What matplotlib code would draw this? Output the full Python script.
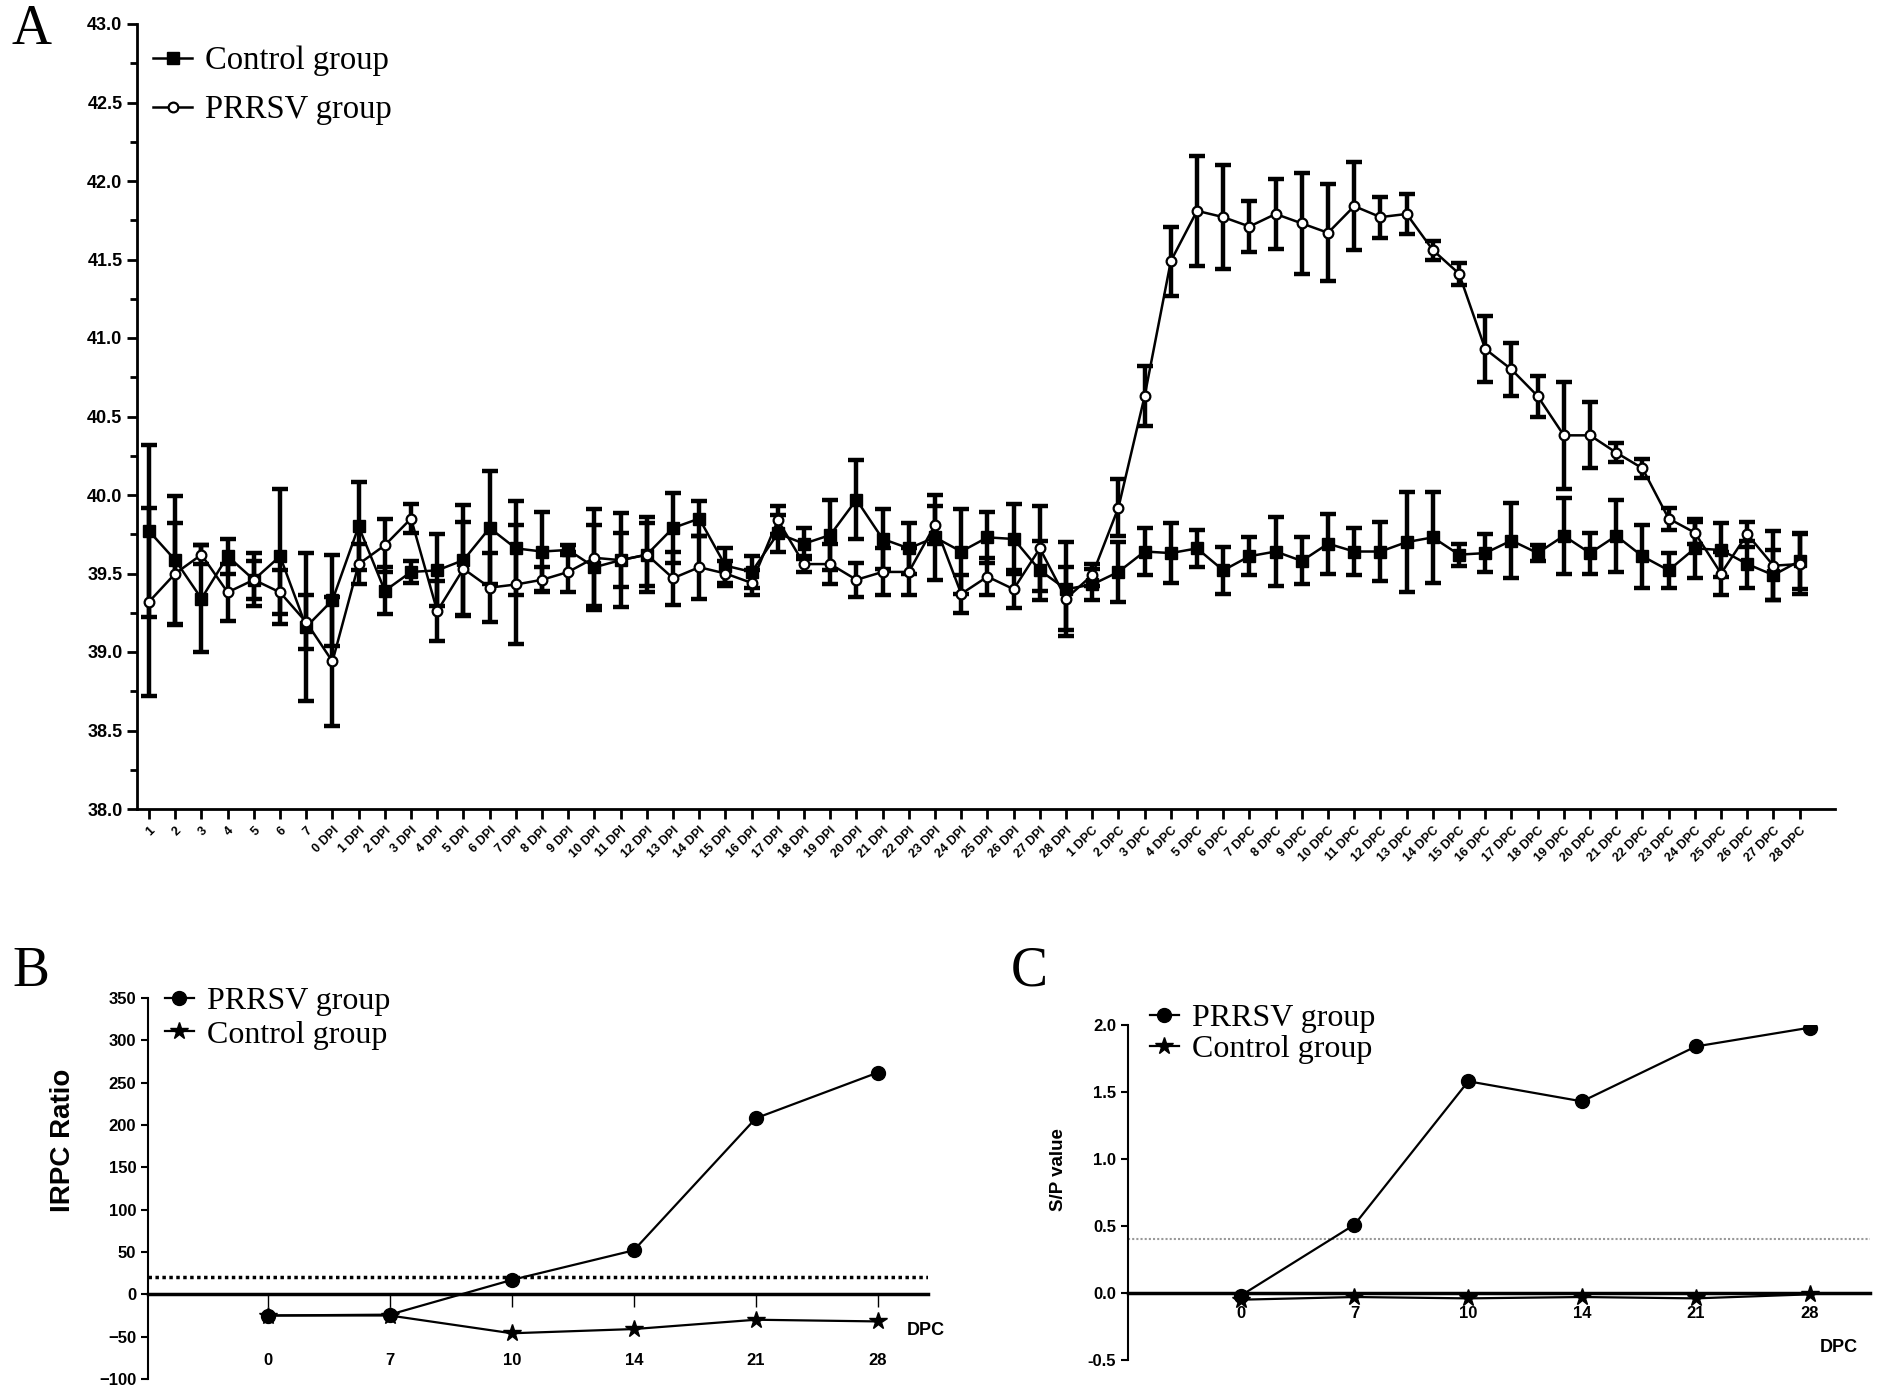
import numpy as np
import matplotlib.pyplot as plt
from matplotlib.ticker import MultipleLocator, AutoMinorLocator

# Panel A: rectal temperature, mean and error per day
days = [str(i) for i in range(1, 8)] + [f'{i} DPI' for i in range(0, 29)] + [f'{i} DPC' for i in range(1, 29)]

control_mean = [39.77, 39.585, 39.34, 39.61, 39.46, 39.61, 39.16, 39.33, 39.80, 39.39,
                39.51, 39.52, 39.585, 39.79, 39.66, 39.64, 39.65, 39.54, 39.585, 39.62,
                39.79, 39.85, 39.55, 39.51, 39.755, 39.69, 39.745, 39.97, 39.72, 39.66,
                39.73, 39.64, 39.73, 39.72, 39.52, 39.40, 39.43, 39.51, 39.64, 39.63,
                39.66, 39.52, 39.61, 39.64, 39.58, 39.69, 39.64, 39.64, 39.70, 39.73,
                39.62, 39.63, 39.71, 39.63, 39.74, 39.63, 39.74, 39.61, 39.52, 39.66,
                39.65, 39.56, 39.49, 39.58]
control_err = [0.55, 0.41, 0.34, 0.11, 0.17, 0.43, 0.47, 0.29, 0.28, 0.15,
               0.07, 0.23, 0.35, 0.36, 0.30, 0.25, 0.03, 0.27, 0.30, 0.24,
               0.22, 0.11, 0.11, 0.10, 0.12, 0.10, 0.22, 0.25, 0.19, 0.16,
               0.27, 0.27, 0.16, 0.22, 0.19, 0.30, 0.10, 0.19, 0.15, 0.19,
               0.12, 0.15, 0.12, 0.22, 0.15, 0.19, 0.15, 0.19, 0.32, 0.29,
               0.07, 0.12, 0.24, 0.05, 0.24, 0.13, 0.23, 0.20, 0.11, 0.19,
               0.17, 0.15, 0.16, 0.18]

prrsv_mean = [39.32, 39.50, 39.62, 39.38, 39.46, 39.38, 39.19, 38.94, 39.56, 39.68,
              39.85, 39.26, 39.53, 39.41, 39.43, 39.46, 39.51, 39.60, 39.585, 39.62,
              39.47, 39.54, 39.50, 39.44, 39.84, 39.56, 39.56, 39.46, 39.51, 39.51,
              39.81, 39.37, 39.48, 39.40, 39.66, 39.34, 39.49, 39.92, 40.63, 41.49,
              41.81, 41.77, 41.71, 41.79, 41.73, 41.67, 41.84, 41.77, 41.79, 41.56,
              41.41, 40.93, 40.80, 40.63, 40.38, 40.38, 40.27, 40.17, 39.85, 39.76,
              39.50, 39.75, 39.55, 39.56]
prrsv_err = [0.60, 0.32, 0.06, 0.18, 0.12, 0.14, 0.17, 0.41, 0.13, 0.17,
             0.09, 0.19, 0.30, 0.22, 0.38, 0.08, 0.13, 0.31, 0.17, 0.20,
             0.17, 0.20, 0.08, 0.08, 0.09, 0.05, 0.13, 0.11, 0.15, 0.15,
             0.12, 0.12, 0.12, 0.12, 0.27, 0.20, 0.07, 0.18, 0.19, 0.22,
             0.35, 0.33, 0.16, 0.22, 0.32, 0.31, 0.28, 0.13, 0.13, 0.06,
             0.07, 0.21, 0.17, 0.13, 0.34, 0.21, 0.06, 0.06, 0.07, 0.07,
             0.14, 0.08, 0.22, 0.19]

# Panels B and C
dpc = ['0', '7', '10', '14', '21', '28']
irpc_prrsv = [-25, -24, 17, 52, 208, 262]
irpc_control = [-25, -25, -46, -41, -30, -32]
irpc_cutoff = 20
sp_prrsv = [-0.02, 0.51, 1.58, 1.43, 1.84, 1.98]
sp_control = [-0.05, -0.03, -0.04, -0.03, -0.04, -0.01]
sp_cutoff = 0.4

SERIF = 'Liberation Serif'
SANS = 'Liberation Sans'

W, H = 1902, 1394
fig = plt.figure(figsize=(W / 100, H / 100), dpi=100)


def px_axes(l, t, r, b):
    return fig.add_axes([l / W, 1 - b / H, (r - l) / W, (b - t) / H])


# ---------- A ----------
axA = px_axes(137, 24, 1835, 809)
x = np.arange(len(days))
axA.errorbar(x, control_mean, yerr=control_err, fmt='none', ecolor='black',
             elinewidth=3.2, capsize=5.5, capthick=3.2, zorder=2)
axA.errorbar(x, prrsv_mean, yerr=prrsv_err, fmt='none', ecolor='black',
             elinewidth=3.2, capsize=5.5, capthick=3.2, zorder=2)
axA.plot(x, control_mean, '-s', color='black', lw=1.8, ms=8.5, label='Control group', zorder=3)
axA.plot(x, prrsv_mean, '-o', color='black', lw=1.8, ms=7, mfc='white', mew=1.6,
         label='PRRSV group', zorder=4)
axA.set_xlim(-0.46, 64.35)
axA.set_ylim(38.0, 43.0)
axA.yaxis.set_major_locator(MultipleLocator(0.5))
axA.yaxis.set_minor_locator(AutoMinorLocator(2))
axA.set_xticks(x)
axA.set_xticklabels(days, rotation=45, ha='right', rotation_mode='anchor',
                    fontsize=9, fontweight='bold', family=SANS)
axA.yaxis.set_major_formatter(plt.FormatStrFormatter('%.1f'))
for lab in axA.get_yticklabels():
    lab.set_fontweight('bold')
    lab.set_family(SANS)
    lab.set_fontsize(13)
axA.tick_params(axis='both', which='major', length=7, width=2, direction='out')
axA.tick_params(axis='y', which='minor', length=5, width=2)
axA.tick_params(axis='x', pad=4)
for s in ['top', 'right']:
    axA.spines[s].set_visible(False)
for s in ['left', 'bottom']:
    axA.spines[s].set_linewidth(2)
axA.legend(loc='upper left', bbox_to_anchor=(153 / W, 1 - 46 / H), bbox_transform=fig.transFigure,
           frameon=False, prop={'family': SERIF, 'size': 23.5}, handlelength=1.2,
           handletextpad=0.4, labelspacing=0.55, borderpad=0, borderaxespad=0)

# ---------- B ----------
axB = px_axes(148, 998, 928, 1379)
xb = np.arange(len(dpc))
axB.axhline(irpc_cutoff, color='black', lw=2.5, ls=(0, (1, 1)), zorder=1)
axB.plot(xb, irpc_prrsv, '-o', color='black', lw=1.6, ms=10, label='PRRSV group', zorder=3)
axB.plot(xb, irpc_control, '-*', color='black', lw=1.6, ms=13, label='Control group', zorder=3)
axB.set_xlim(-0.98, 5.41)
axB.set_ylim(-100, 350)
axB.yaxis.set_major_locator(MultipleLocator(50))
axB.set_xticks(xb)
axB.set_xticklabels(dpc)
axB.spines['bottom'].set_position(('data', 0))
axB.spines['bottom'].set_linewidth(2.5)
axB.spines['left'].set_linewidth(1.5)
for s in ['top', 'right']:
    axB.spines[s].set_visible(False)
axB.tick_params(axis='x', length=9, width=1, pad=33, colors='black')
axB.tick_params(axis='y', length=5, width=1.5)
for lab in axB.get_xticklabels() + axB.get_yticklabels():
    lab.set_fontweight('bold')
    lab.set_family(SANS)
    lab.set_fontsize(12)
axB.set_ylabel('IRPC Ratio', fontsize=20, fontweight='bold', family=SANS)
axB.yaxis.set_label_coords(-0.092, 0.627)
axB.text(5.24, -43, 'DPC', fontsize=13, fontweight='bold', family=SANS,
         ha='left', va='center', clip_on=False)
axB.legend(loc='upper left', bbox_to_anchor=(165 / W, 1 - 987 / H), bbox_transform=fig.transFigure,
           frameon=False, prop={'family': SERIF, 'size': 23}, handlelength=0.9,
           handletextpad=0.4, labelspacing=0.12, borderpad=0, borderaxespad=0)

# ---------- C ----------
axC = px_axes(1128, 1025, 1870, 1360)
axC.axhline(sp_cutoff, color='#999999', lw=1.5, ls=(0, (1, 1)), zorder=1)
axC.plot(xb, sp_prrsv, '-o', color='black', lw=1.6, ms=10, label='PRRSV group', zorder=3)
axC.plot(xb, sp_control, '-*', color='black', lw=1.6, ms=13, label='Control group', zorder=3)
axC.set_xlim(-0.99, 5.53)
axC.set_ylim(-0.5, 2.0)
axC.yaxis.set_major_locator(MultipleLocator(0.5))
axC.yaxis.set_major_formatter(plt.FormatStrFormatter('%.1f'))
axC.set_xticks(xb)
axC.set_xticklabels(dpc)
axC.spines['bottom'].set_position(('data', 0))
axC.spines['bottom'].set_linewidth(2.5)
axC.spines['left'].set_linewidth(1.5)
for s in ['top', 'right']:
    axC.spines[s].set_visible(False)
axC.tick_params(axis='x', length=3, width=1, pad=6)
axC.tick_params(axis='y', length=5, width=1.5)
for lab in axC.get_xticklabels() + axC.get_yticklabels():
    lab.set_fontweight('bold')
    lab.set_family(SANS)
    lab.set_fontsize(12)
axC.set_ylabel('S/P value', fontsize=13.5, fontweight='bold', family=SANS)
axC.yaxis.set_label_coords(-0.082, 0.567)
axC.text(5.09, -0.41, 'DPC', fontsize=13, fontweight='bold', family=SANS,
         ha='left', va='center', clip_on=False)
axC.legend(loc='upper left', bbox_to_anchor=(1150 / W, 1 - 1004 / H), bbox_transform=fig.transFigure,
           frameon=False, prop={'family': SERIF, 'size': 23}, handlelength=0.9,
           handletextpad=0.4, labelspacing=0.05, borderpad=0, borderaxespad=0)

# panel letters
for letter, (px, py) in {'A': (31, 30), 'B': (31, 972), 'C': (1029, 972)}.items():
    fig.text(px / W, 1 - py / H, letter, fontsize=40, family=SERIF, ha='center', va='center')

fig.savefig('out.png', dpi=100)
